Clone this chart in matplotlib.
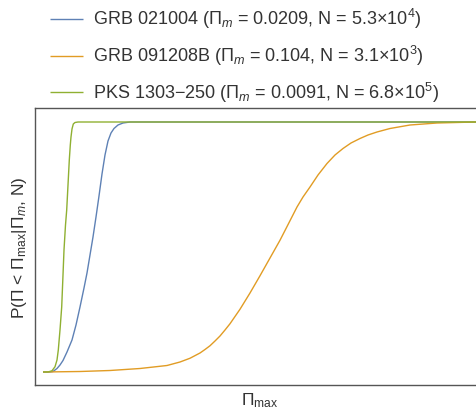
import matplotlib
matplotlib.use("Agg")
import matplotlib.pyplot as plt

plt.rcParams['font.family'] = ['Liberation Sans', 'DejaVu Sans']
plt.rcParams['mathtext.fontset'] = 'custom'
plt.rcParams['mathtext.rm'] = 'Liberation Sans'
plt.rcParams['mathtext.it'] = 'Liberation Sans:italic'
plt.rcParams['mathtext.bf'] = 'Liberation Sans:bold'

# Values (x in arbitrary Pi_max units, y = cumulative probability)
labels = [
    r'GRB 021004 ($\Pi_m$ = 0.0209, N = 5.3$\times$10$^4$)',
    r'GRB 091208B ($\Pi_m$ = 0.104, N = 3.1$\times$10$^3$)',
    r'PKS 1303$-$250 ($\Pi_m$ = 0.0091, N = 6.8$\times$10$^5$)',
]
colors = ['#5E81B5', '#E19C24', '#8FB032']

blue_x = [0, 7, 10, 14, 17, 20, 24, 29, 33, 37, 41, 44, 47, 50, 53, 56, 59, 62,
          65, 68, 71, 75, 80, 87, 433]
blue_y = [0.000, 0.000, 0.002, 0.014, 0.028, 0.046, 0.080, 0.128, 0.188, 0.260,
          0.336, 0.396, 0.468, 0.540, 0.620, 0.704, 0.792, 0.868, 0.924, 0.956,
          0.974, 0.988, 0.996, 1.000, 1.000]

orange_x = [0, 37, 67, 97, 124, 137, 147, 157, 162, 167, 172, 177, 182, 187, 197,
            207, 217, 227, 237, 242, 254, 260, 267, 275, 284, 292, 300, 308, 317,
            325, 334, 347, 367, 394, 433]
orange_y = [0.000, 0.002, 0.006, 0.014, 0.026, 0.040, 0.055, 0.076, 0.090, 0.105,
            0.124, 0.144, 0.168, 0.193, 0.251, 0.316, 0.385, 0.456, 0.527, 0.566,
            0.660, 0.700, 0.740, 0.788, 0.834, 0.868, 0.894, 0.916, 0.934, 0.948,
            0.960, 0.974, 0.988, 0.996, 1.000]

green_x = [0, 5, 9, 12, 14, 15.3, 17, 18.7, 20, 21, 22.5, 23.7, 25, 26.3, 27.3,
           28, 29, 30.3, 32, 35, 433]
green_y = [0.000, 0.000, 0.005, 0.021, 0.048, 0.088, 0.168, 0.260, 0.388, 0.488,
           0.588, 0.648, 0.748, 0.848, 0.908, 0.940, 0.972, 0.992, 0.998, 1.000,
           1.000]

W, H = 476, 413
fig = plt.figure(figsize=(W / 100, H / 100), dpi=100)
ax = fig.add_axes([35 / W, 28 / H, (500 - 35) / W, (385 - 108) / H])

series = [(blue_x, blue_y), (orange_x, orange_y), (green_x, green_y)]
handles = []
for (xs, ys), c, lab in zip(series, colors, labels):
    h, = ax.plot(xs, ys, color=c, lw=1.0, label=lab,
                 solid_joinstyle='round', solid_capstyle='butt')
    handles.append(h)

ax.set_xlim(-8, 500 - 43)
ax.set_ylim(-13 / 250, 1 + 14 / 250)
ax.set_xticks([])
ax.set_yticks([])
for s in ax.spines.values():
    s.set_color('#555555')
    s.set_linewidth(1.0)

fig.text(20 / W, 1 - 248 / H, r'P($\Pi$ < $\Pi_{\rm max}$|$\Pi_m$, N)', rotation=90,
         ha='center', va='center', fontsize=12.5, color='#333333')
fig.text(260 / W, 1 - 401 / H, r'$\Pi_{\rm max}$', ha='center', va='center',
         fontsize=12.5, color='#333333')

leg = fig.legend(handles=handles, labels=labels, loc='upper left',
                 bbox_to_anchor=(50 / W, 1 - 7 / H), frameon=False,
                 fontsize=13, handlelength=1.83, handletextpad=0.55,
                 labelspacing=0.7, borderaxespad=0.0, borderpad=0.0)
for t in leg.get_texts():
    t.set_color('#333333')

fig.savefig('out.png', dpi=100)
